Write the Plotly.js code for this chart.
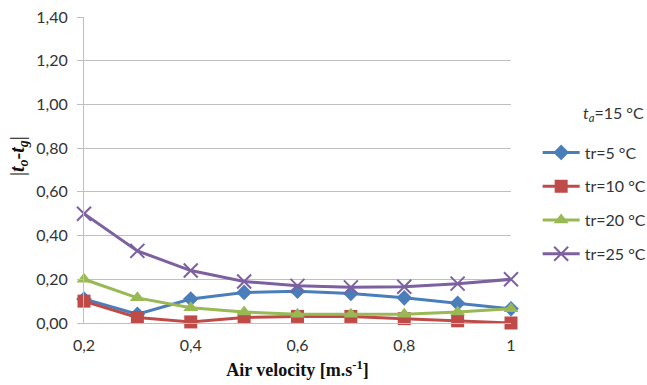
<!DOCTYPE html>
<html>
<head>
<meta charset="utf-8">
<script src="https://cdn.plot.ly/plotly-3.0.1.min.js"></script>
<style>html,body{margin:0;padding:0;background:#fff;}#chart{width:647px;height:385px;}</style>
</head>
<body>
<div id="chart"></div>
<script>
const velocity = [0.2, 0.3, 0.4, 0.5, 0.6, 0.7, 0.8, 0.9, 1.0];
const tr5  = [0.11, 0.04, 0.11, 0.14, 0.145, 0.135, 0.115, 0.09, 0.065];
const tr10 = [0.10, 0.025, 0.005, 0.025, 0.03, 0.03, 0.02, 0.01, 0.00];
const tr20 = [0.20, 0.115, 0.07, 0.05, 0.04, 0.04, 0.04, 0.05, 0.065];
const tr25 = [0.50, 0.33, 0.24, 0.19, 0.17, 0.163, 0.166, 0.18, 0.20];
const seriesNames = ['tr=5 °C', 'tr=10 °C', 'tr=20 °C', 'tr=25 °C'];
const yTicks = [0, 0.2, 0.4, 0.6, 0.8, 1.0, 1.2, 1.4];
const xTicks = [0.2, 0.4, 0.6, 0.8, 1.0];

function tr(name, y, color, symbol, size, group, xthin) {
  const marker = {symbol: symbol, size: size, color: color};
  if (xthin) marker.line = {color: color, width: 2};
  return {x: velocity, y: y, name: name, type: 'scatter', mode: 'lines+markers',
    line: {color: color, width: 3}, marker: marker, legendgroup: group, cliponaxis: false};
}
const data = [
  tr(seriesNames[0], tr5, '#4A7EBB', 'diamond', 12, 'a'),
  tr(seriesNames[1], tr10, '#BE4B48', 'square', 13, 'b'),
  tr(seriesNames[2], tr20, '#98B954', 'triangle-up', 13, 'c'),
  tr(seriesNames[3], tr25, '#7D60A0', 'x-thin', 14, 'd', true)
];
const fontFam = 'Lato, "Open Sans", sans-serif';
const layout = {
  width: 647, height: 385,
  margin: {l: 84, r: 136, t: 17, b: 62},
  paper_bgcolor: '#fff', plot_bgcolor: '#fff',
  separators: ', ',
  showlegend: true,
  font: {family: fontFam, size: 16, color: '#333'},
  xaxis: {
    range: [0.2, 1.0], tickvals: xTicks, showgrid: false, zeroline: false, automargin: false,
    showline: true, linecolor: '#BFBFBF', linewidth: 1, ticks: '', ticklabelstandoff: 8,
    tickfont: {family: fontFam, size: 16, color: '#333'},
    title: {text: '<b>Air velocity [m.s<sup>-1</sup>]</b>', font: {family: '"Liberation Serif", "DejaVu Serif", serif', size: 18, color: '#111'}, standoff: 10}
  },
  yaxis: {
    range: [0, 1.4], tickvals: yTicks, tickformat: '.2f', showgrid: true, gridcolor: '#BFBFBF', gridwidth: 1,
    zeroline: false, showline: true, linecolor: '#BFBFBF', linewidth: 1, automargin: false,
    ticks: 'outside', ticklen: 6, tickcolor: '#BFBFBF', ticklabelstandoff: 6,
    tickfont: {family: fontFam, size: 16, color: '#333'}
  },
  legend: {
    xref: 'container', yref: 'container',
    x: 0.831, xanchor: 'left', y: 0.648, yanchor: 'top',
    traceorder: 'grouped', tracegroupgap: 10, itemwidth: 37,
    font: {family: fontFam, size: 16, color: '#333'},
    bgcolor: 'rgba(0,0,0,0)'
  },
  annotations: [
    {xref: 'paper', yref: 'paper', x: 1.165, y: 0.685, xanchor: 'left', yanchor: 'middle', showarrow: false,
      text: '<i>t</i><sub><i>a</i></sub>=15 °C', font: {family: fontFam, size: 16, color: '#333'}},
    {xref: 'paper', yref: 'paper', x: -0.155, y: 0.545, xanchor: 'center', yanchor: 'middle', showarrow: false, textangle: -90,
      text: '|<b><i>t</i></b><sub><b><i>o</i></b></sub><b>-<i>t</i></b><sub><b><i>g</i></b></sub>|',
      font: {family: '"Liberation Serif", "DejaVu Serif", serif', size: 20, color: '#111'}}
  ]
};
Plotly.newPlot('chart', data, layout, {displayModeBar: false, staticPlot: true});
</script>
</body>
</html>
